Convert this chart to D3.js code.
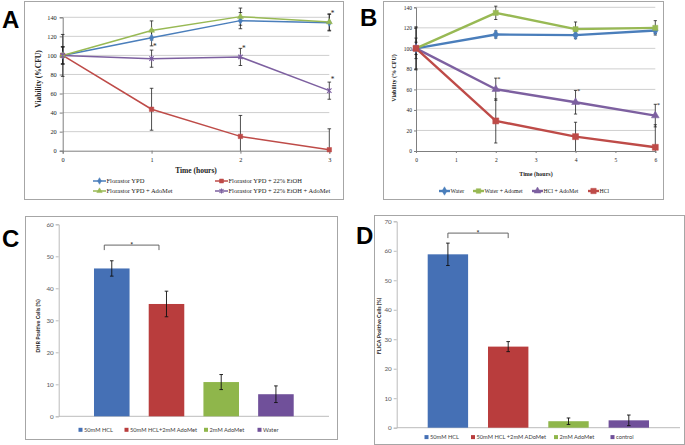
<!DOCTYPE html>
<html><head><meta charset="utf-8">
<script src="https://cdn.jsdelivr.net/npm/d3@7"></script>
<style>body{margin:0;background:#fff}svg{display:block}</style>
</head><body>
<svg id="c" width="685" height="445"></svg>
<script>
// ---------- DATA ----------
// Panel A
const timesA = [0, 1, 2, 3];
const yTicksA = [0, 20, 40, 60, 80, 100, 120, 140];
const seriesNamesA = ["Florastor YPD", "Florastor YPD + 22% EtOH", "Florastor YPD + AdoMet", "Florastor YPD + 22% EtOH + AdoMet"];
const ypdA = [100, 118.5, 136.5, 134.4];
const ypdErrA = [9, 8.5, 8.5, 8.7];
const etohA = [100, 43.5, 15, 1];
const etohErrA = [9, 22, 22, 22];
const adoA = [100, 126.2, 140.7, 135];
const adoErrA = [22, 10, 9, 8.6];
const etohAdoA = [100, 96.6, 98.4, 63];
const etohAdoErrA = [9, 9, 9, 9];
const starsTA = [1, 2, 3, 3];
const starsVA = [110, 108, 144, 75];

// Panel B
const timesB = [0, 2, 4, 6];
const xTicksB = [0, 1, 2, 3, 4, 5, 6];
const yTicksB = [0, 20, 40, 60, 80, 100, 120, 140];
const seriesNamesB = ["Water", "Water + Adomet", "HCl + AdoMet", "HCl"];
const waterB = [100, 113.5, 112.9, 117.4];
const waterErrB = [6, 3.5, 3.5, 3];
const waterAdoB = [100, 134.6, 118.7, 120];
const waterAdoErrB = [21, 6.5, 7, 7];
const hclAdoB = [100, 60.2, 47.5, 34.5];
const hclAdoErrB = [10, 10.8, 11.5, 11];
const hclB = [100, 29.3, 14, 3.6];
const hclErrB = [20, 21.5, 14, 22];
const starsTB = [2, 4, 6];
const starsVB = [71, 59, 46];

// Panel C
const catsC = ["50mM HCL", "50mM HCL+2mM AdoMet", "2mM AdoMet", "Water"];
const valsC = [46.2, 35.1, 10.7, 6.9];
const errC = [2.4, 4, 2.35, 2.6];
const yTicksC = [0, 10, 20, 30, 40, 50, 60];

// Panel D
const catsD = ["50mM HCL", "50mM HCL +2mM ADoMet", "2mM AdoMet", "control"];
const valsD = [58.8, 27.5, 2.2, 2.5];
const errD = [3.8, 1.7, 1.1, 1.8];
const yTicksD = [0, 10, 20, 30, 40, 50, 60, 70];

// ---------- STYLE ----------
const cBlue = "#4a7ebb", cRed = "#be4b48", cGreen = "#98b954", cPurple = "#7d60a0";
const bBlue = "#4570b5", bRed = "#b93d3d", bGreen = "#8fb64b", bPurple = "#70509a";
const serif = "'Liberation Serif','Times New Roman',serif";
const sans = "Lato,'Open Sans',sans-serif";

const svg = d3.select("#c");

function frame(x0, y0, x1, y1) {
  svg.append("rect").attr("x", x0 + 0.5).attr("y", y0 + 0.5)
    .attr("width", x1 - x0).attr("height", y1 - y0)
    .attr("fill", "none").attr("stroke", "#a6a6a6").attr("stroke-width", 1);
}
function letter(t, x, y) {
  svg.append("text").attr("x", x).attr("y", y).text(t)
    .attr("font-family", "'Liberation Sans',Arial,sans-serif").attr("font-weight", "bold")
    .attr("font-size", 24).attr("fill", "#000");
}

const symStar = {
  draw(ctx, size) {
    const r = Math.sqrt(size) * 0.55;
    ctx.moveTo(-r, -r); ctx.lineTo(r, r);
    ctx.moveTo(-r, r); ctx.lineTo(r, -r);
    ctx.moveTo(0, -r * 1.3); ctx.lineTo(0, r * 1.3);
  }
};

function marker(g, sym, size, color, x, y, strokeOnly) {
  const p = g.append("path").attr("d", d3.symbol().type(sym).size(size)())
    .attr("transform", `translate(${x},${y})`);
  if (strokeOnly) p.attr("fill", "none").attr("stroke", color).attr("stroke-width", 1.1);
  else p.attr("fill", color).attr("stroke", color).attr("stroke-width", 0.5);
}

function styleAxis(a, font, size, color, lineColor) {
  a.selectAll("text").attr("font-family", font).attr("font-size", size).attr("fill", color);
  a.selectAll("line").attr("stroke", lineColor);
  a.select(".domain").attr("stroke", lineColor);
}

function linePanel(o) {
  const g = svg.append("g");
  const [xa, xb] = o.x.range();
  g.selectAll(null).data(o.yTicks.filter(d => d > 0)).join("line")
    .attr("x1", xa).attr("x2", xb).attr("y1", d => o.y(d)).attr("y2", d => o.y(d))
    .attr("stroke", "#c9c9c9").attr("stroke-width", 0.9);
  const ay = g.append("g").attr("transform", `translate(${xa},0)`)
    .call(d3.axisLeft(o.y).tickValues(o.yTicks).tickSize(o.tick).tickPadding(o.pad).tickFormat(d3.format("d")));
  styleAxis(ay, serif, o.fs, "#222", "#7f7f7f");
  const ax = g.append("g").attr("transform", `translate(0,${o.y(0)})`)
    .call(d3.axisBottom(o.x).tickValues(o.xTicks).tickSize(o.tick).tickPadding(o.xpad).tickFormat(d3.format("d")));
  styleAxis(ax, serif, o.fs, "#222", "#7f7f7f");

  const line = d3.line().x((d, i) => o.x(o.times[i])).y(d => o.y(d));
  o.series.forEach(s => {
    g.append("path").datum(s.vals).attr("d", line).attr("fill", "none")
      .attr("stroke", s.color).attr("stroke-width", o.lw).attr("stroke-linejoin", "round");
  });
  // error bars
  o.series.forEach(s => {
    s.vals.forEach((v, i) => {
      const x = o.x(o.times[i]);
      const lo = Math.max(0, v - s.errs[i]), hi = v + s.errs[i];
      g.append("line").attr("x1", x).attr("x2", x).attr("y1", o.y(lo)).attr("y2", o.y(hi))
        .attr("stroke", "#222").attr("stroke-width", 0.8);
      const caps = [hi];
      if (v - s.errs[i] > 0) caps.push(lo);
      caps.forEach(c => g.append("line").attr("x1", x - o.cap).attr("x2", x + o.cap)
        .attr("y1", o.y(c)).attr("y2", o.y(c)).attr("stroke", "#222").attr("stroke-width", 0.8));
    });
  });
  o.series.forEach(s => {
    s.vals.forEach((v, i) => marker(g, s.sym, s.size, s.color, o.x(o.times[i]), o.y(v), s.strokeOnly));
  });
  o.starsT.forEach((t, i) => {
    g.append("text").attr("x", o.x(t) + o.starDx).attr("y", o.y(o.starsV[i]) + 3)
      .attr("font-family", serif).attr("font-size", o.fs + 1).attr("fill", "#222").text("*");
  });
  // titles
  g.append("text").attr("transform", `translate(${o.ylabX},${o.ylabY}) rotate(-90)`)
    .attr("text-anchor", "middle").attr("font-family", serif).attr("font-weight", "bold")
    .attr("font-size", o.tfs).attr("fill", "#222").text(o.ylab);
  g.append("text").attr("x", o.xlabX).attr("y", o.xlabY).attr("text-anchor", "middle")
    .attr("font-family", serif).attr("font-weight", "bold")
    .attr("font-size", o.tfs).attr("fill", "#222").text("Time (hours)");
  // legend
  o.legend.forEach((L, i) => {
    const s = o.series[L.idx];
    g.append("line").attr("x1", L.x).attr("x2", L.x + o.legLen).attr("y1", L.y).attr("y2", L.y)
      .attr("stroke", s.color).attr("stroke-width", o.lw);
    marker(g, s.sym, s.size * 0.8, s.color, L.x + o.legLen / 2, L.y, s.strokeOnly);
    g.append("text").attr("x", L.x + o.legLen + 0.5).attr("y", L.y + o.lfs * 0.35)
      .attr("font-family", serif).attr("font-size", o.lfs).attr("fill", "#222").text(o.names[L.idx]);
  });
}

function barPanel(o) {
  const g = svg.append("g");
  const ay = g.append("g").attr("transform", `translate(${o.x.range()[0]},0)`)
    .call(d3.axisLeft(o.y).tickValues(o.yTicks).tickSize(3).tickPadding(2));
  styleAxis(ay, sans, 6.3, "#595959", "#bcbcbc");
  g.append("line").attr("x1", o.x.range()[0]).attr("x2", o.x.range()[1])
    .attr("y1", o.y(0)).attr("y2", o.y(0)).attr("stroke", "#bcbcbc");
  g.selectAll(null).data(o.cats).join("rect")
    .attr("x", d => o.x(d)).attr("width", o.x.bandwidth())
    .attr("y", (d, i) => o.y(o.vals[i])).attr("height", (d, i) => o.y(0) - o.y(o.vals[i]))
    .attr("fill", (d, i) => o.colors[i]);
  o.cats.forEach((c, i) => {
    const x = o.x(c) + o.x.bandwidth() / 2;
    const lo = o.vals[i] - o.errs[i], hi = o.vals[i] + o.errs[i];
    g.append("line").attr("x1", x).attr("x2", x).attr("y1", o.y(lo)).attr("y2", o.y(hi))
      .attr("stroke", "#111").attr("stroke-width", 0.9);
    [lo, hi].forEach(v => g.append("line").attr("x1", x - 1.8).attr("x2", x + 1.8)
      .attr("y1", o.y(v)).attr("y2", o.y(v)).attr("stroke", "#111").attr("stroke-width", 0.9));
  });
  // significance bracket
  const bx0 = o.x(o.cats[0]) + o.x.bandwidth() / 2 + o.brDx;
  const bx1 = o.x(o.cats[1]) + o.x.bandwidth() / 2 + o.brDx;
  const by = o.y(o.brV);
  g.append("path").attr("d", `M${bx0},${by + 5}V${by}H${bx1}V${by + 5}`)
    .attr("fill", "none").attr("stroke", "#555").attr("stroke-width", 0.9);
  g.append("text").attr("x", (bx0 + bx1) / 2).attr("y", by + 3).attr("text-anchor", "middle")
    .attr("font-family", sans).attr("font-weight", "bold").attr("font-size", 7).attr("fill", "#333").text("*");
  g.append("text").attr("transform", `translate(${o.ylabX},${o.ylabY}) rotate(-90)`)
    .attr("text-anchor", "middle").attr("font-family", sans).attr("font-weight", "bold")
    .attr("font-size", 5.4).attr("fill", "#222").text(o.ylab);
  // legend
  o.cats.forEach((c, i) => {
    g.append("rect").attr("x", o.legX[i]).attr("y", o.legY - 2.2).attr("width", 4).attr("height", 4)
      .attr("fill", o.colors[i]);
    g.append("text").attr("x", o.legX[i] + 5.5).attr("y", o.legY + 2.1)
      .attr("font-family", sans).attr("font-size", 5.7).attr("fill", "#404040").text(c);
  });
}

// ---------- FRAMES & LETTERS ----------
frame(24, 1, 343, 199);
frame(383, 1, 663, 199);
frame(25, 216, 337, 439);
frame(374, 215, 684, 444);
letter("A", 2, 28);
letter("B", 360, 26);
letter("C", 2, 247);
letter("D", 356, 244);

// ---------- PANEL A ----------
linePanel({
  x: d3.scaleLinear().domain([0, 3]).range([62.7, 329.3]),
  y: d3.scaleLinear().domain([0, 140]).range([150.7, 17.3]),
  times: timesA, xTicks: timesA, yTicks: yTicksA,
  tick: 3, pad: 3, xpad: 4, fs: 6.3, tfs: 7.5, lfs: 6.5, lw: 1.5, cap: 1.8,
  series: [
    {vals: ypdA, errs: ypdErrA, color: cBlue, sym: d3.symbolDiamond, size: 16},
    {vals: etohA, errs: etohErrA, color: cRed, sym: d3.symbolSquare, size: 20},
    {vals: adoA, errs: adoErrA, color: cGreen, sym: d3.symbolTriangle, size: 16},
    {vals: etohAdoA, errs: etohAdoErrA, color: cPurple, sym: symStar, size: 16, strokeOnly: true}
  ],
  names: seriesNamesA,
  starsT: starsTA, starsV: starsVA, starDx: 1.5,
  ylab: "Viability (%CFU)", ylabX: 41, ylabY: 79,
  xlabX: 196, xlabY: 172.5,
  legLen: 13,
  legend: [{idx: 0, x: 93, y: 181}, {idx: 1, x: 215, y: 181}, {idx: 2, x: 93, y: 191}, {idx: 3, x: 215, y: 191}]
});

// ---------- PANEL B ----------
linePanel({
  x: d3.scaleLinear().domain([0, 6]).range([416, 655.3]),
  y: d3.scaleLinear().domain([0, 140]).range([151, 7.3]),
  times: timesB, xTicks: xTicksB, yTicks: yTicksB,
  tick: 2, pad: 2, xpad: 5, fs: 5.5, tfs: 6, lfs: 5.8, lw: 2.4, cap: 1.6,
  series: [
    {vals: waterB, errs: waterErrB, color: cBlue, sym: d3.symbolDiamond, size: 26},
    {vals: waterAdoB, errs: waterAdoErrB, color: cGreen, sym: d3.symbolSquare, size: 26},
    {vals: hclAdoB, errs: hclAdoErrB, color: cPurple, sym: d3.symbolTriangle, size: 26},
    {vals: hclB, errs: hclErrB, color: cRed, sym: d3.symbolSquare, size: 36}
  ],
  names: seriesNamesB,
  starsT: starsTB, starsV: starsVB, starDx: 1.5,
  ylab: "Viability (% CFU)", ylabX: 396, ylabY: 78,
  xlabX: 536, xlabY: 176,
  legLen: 11,
  legend: [{idx: 0, x: 439, y: 191}, {idx: 1, x: 473, y: 191}, {idx: 2, x: 532, y: 191}, {idx: 3, x: 588, y: 191}]
});

// ---------- PANEL C ----------
barPanel({
  x: d3.scaleBand().domain(catsC).range([58.7, 329]).paddingInner(0.35).paddingOuter(0.645),
  y: d3.scaleLinear().domain([0, 60]).range([416.3, 224.3]),
  cats: catsC, vals: valsC, errs: errC, yTicks: yTicksC,
  colors: [bBlue, bRed, bGreen, bPurple],
  brV: 53.5, brDx: -7.5,
  ylab: "DHR Positive Cells (%)", ylabX: 39.5, ylabY: 326,
  legX: [78.5, 124.5, 204, 257.5], legY: 430
});

// ---------- PANEL D ----------
barPanel({
  x: d3.scaleBand().domain(catsD).range([396.7, 680]).paddingInner(0.33).paddingOuter(0.514),
  y: d3.scaleLinear().domain([0, 70]).range([427.7, 221.3]),
  cats: catsD, vals: valsD, errs: errD, yTicks: yTicksD,
  colors: [bBlue, bRed, bGreen, bPurple],
  brV: 66, brDx: 0,
  ylab: "FLICA Positive Cells (%)", ylabX: 381, ylabY: 326,
  legX: [424.5, 471, 554, 610.5], legY: 437.3
});
</script>
</body></html>
